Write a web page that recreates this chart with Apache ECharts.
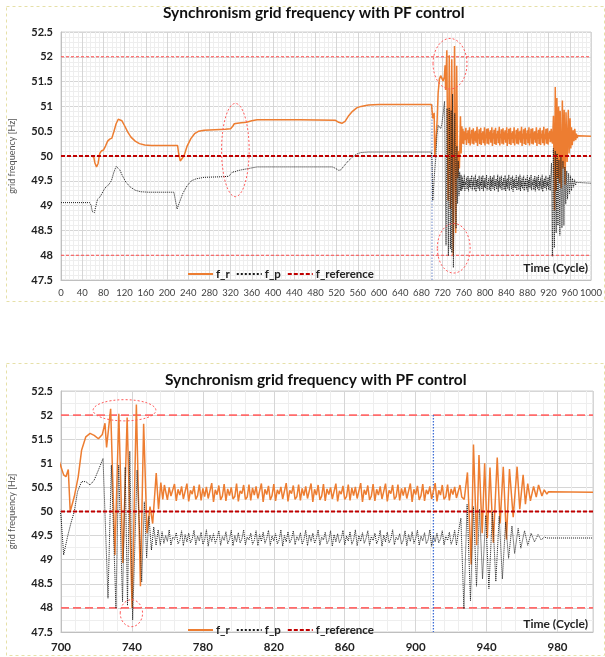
<!DOCTYPE html>
<html>
<head>
<meta charset="utf-8">
<script src="https://cdn.jsdelivr.net/npm/echarts@6/dist/echarts.min.js"></script>
<style>html,body{margin:0;padding:0;background:#fff}#c{width:605px;height:657px}</style>
</head>
<body>
<div id="c"></div>
<script>
// ---------- data (cycle, Hz) ----------
const titleText = 'Synchronism grid frequency with PF control';
const seriesNames = ['f_r', 'f_p', 'f_reference'];
const yTicks = { min: 47.5, max: 52.5, step: 0.5 };
const topX = { min: 0, max: 1000, step: 40 };
const bottomX = { min: 700, max: 1000, step: 40 };
const refValue = 50;
const limitValues = [52, 48];
const markerTop = [700, 51.04];
const markerBottom = [910, 52];

// f_r : smooth part and first transient
const frHead = [
  [58,50.0],[62,49.97],[64,49.86],[67,49.78],[70,49.85],[73,50.05],[76,50.1],[80,50.12],[84,50.2],[88,50.3],
  [92,50.34],[96,50.36],[100,50.5],[104,50.65],[108,50.74],[111,50.76],[115,50.71],[120,50.61],[126,50.48],[132,50.38],
  [140,50.3],[148,50.25],[158,50.22],[170,50.21],[200,50.21],[220,50.21],[222,50.05],[225,49.9],[228,49.88],[232,50.0],
  [238,50.2],[245,50.35],[252,50.45],[260,50.5],[270,50.52],[290,50.53],[310,50.54],[320,50.55],[324,50.6],[327,50.65],
  [330,50.63],[333,50.66],[340,50.67],[350,50.68],[360,50.71],[370,50.73],[450,50.73],[518,50.72],[524,50.68],[530,50.66],
  [536,50.7],[542,50.8],[550,50.9],[558,50.97],[566,51.0],[580,51.03],[600,51.04],[699,51.04],
  [700,51.03],[701.5,50.76],[702.8,50.72],[704.1,50.87],[705.2,50.0],[707.5,50.31],[709.7,50.72],[711.6,51.27],[714,51.55],[716.4,51.62],
  [718.7,51.58],[721.1,51.51],[723.3,51.6],[724.8,51.83],[725.7,51.33],[728,52.13],[730.4,49.1],[732.6,52.03],[734.9,48.93],[737.3,51.95],
  [740.1,48.0],[742.5,52.22],[744.8,48.45],[746.6,51.82],[748.5,49.55],[750.2,50.1],[751.7,49.75],[753.7,50.8],[755,50.05],[756.3,50.6],
  [757.4,50.25],[758.3,50.55]
];
// f_r : steady oscillation, one value per cycle from 759
const frSteadyStart = 759;
const frSteady = [
  50.55,50.24,50.50,50.32,50.28,50.57,50.22,50.46,50.34,50.52,
  50.26,50.30,50.58,50.21,50.44,50.36,50.53,50.25,50.33,50.56,
  50.23,50.48,50.31,50.51,50.27,50.29,50.59,50.20,50.45,50.35,
  50.54,50.24,50.32,50.57,50.22,50.47,50.33,50.50,50.26,50.31,
  50.58,50.21,50.43,50.37,50.55,50.25,50.30,50.56,50.23,50.49,
  50.34,50.52,50.27,50.29,50.58,50.20,50.46,50.35,50.53,50.24,
  50.33,50.57,50.22,50.45,50.36,50.51,50.26,50.30,50.59,50.21,
  50.44,50.37,50.54,50.25,50.31,50.56,50.23,50.48,50.33,50.52,
  50.27,50.28,50.58,50.20,50.46,50.34,50.55,50.24,50.32,50.57,
  50.22,50.47,50.35,50.50,50.26,50.30,50.58,50.21,50.43,50.36,
  50.53,50.25,50.31,50.56,50.23,50.49,50.33,50.51,50.27,50.29,
  50.59,50.20,50.45,50.35,50.54,50.24,50.32,50.57,50.22,50.46,
  50.34,50.52,50.26,50.30,50.58,50.21,50.44,50.37,50.55,50.25,
  50.31,50.56,50.23,50.48,50.33,50.50,50.27,50.29,50.58,50.20,
  50.46,50.35,50.53,50.24,50.33,50.57,50.22,50.45,50.36,50.52,
  50.26,50.30,50.59,50.21,50.44,50.34,50.55,50.25,50.31,50.56,
  50.23,50.47,50.35,50.51,50.28,50.30,50.55,50.30
];
// f_r : second transient and end
const frTail = [
  [927.4,50.25],[929.2,50.81],[931.3,48.9],[932.6,51.39],[934.4,49.3],[935.7,51.17],[937.5,49.55],[938.9,51.0],[940.4,49.45],[941.9,50.91],
  [943.8,49.35],[946,51.12],[947.6,49.75],[949.4,50.93],[951.2,49.42],[952.9,50.88],[955,49.88],[957.2,50.93],[958.7,50.05],[960.6,50.76],
  [961.9,50.15],[963.2,50.58],[964.7,50.22],[966.5,50.52],[968,50.3],[969.3,50.55],[971.2,50.32],[972.5,50.45],[974,50.36],[974.9,50.41],
  [976,50.4],[1000,50.4]
];

// f_p : smooth part and first transient
const fpHead = [
  [0,49.06],[54,49.06],[57,49.0],[59,48.88],[63,48.86],[66,49.0],[69,49.13],[74,49.18],[80,49.3],[85,49.38],
  [90,49.42],[95,49.5],[100,49.68],[104,49.79],[107,49.8],[111,49.72],[116,49.6],[122,49.48],[130,49.38],[140,49.31],
  [150,49.28],[165,49.27],[213,49.27],[216,49.1],[219,48.93],[223,49.05],[230,49.25],[238,49.4],[246,49.5],[255,49.54],
  [270,49.57],[300,49.58],[316,49.59],[320,49.63],[324,49.68],[328,49.68],[332,49.7],[340,49.72],[350,49.74],[360,49.76],
  [370,49.78],[450,49.78],[512,49.78],[518,49.75],[524,49.71],[528,49.72],[534,49.8],[542,49.9],[550,49.98],[558,50.04],
  [566,50.07],[580,50.08],[699,50.08],
  [700,49.9],[701.5,49.1],[703.7,49.48],[705.6,49.76],[707.5,50.0],[709.3,50.41],[711.6,50.62],[714,50.62],[716.4,50.55],[718.7,50.65],
  [721.1,50.86],[723.7,51.1],[726.5,48.2],[728.4,50.96],[731,47.99],[732.5,50.96],[734.7,48.13],[736.2,50.92],[737.5,48.05],[738.8,51.25],
  [740.4,47.75],[742.9,50.86],[745.5,48.54],[747,50.2],[748.3,49.04],[749.6,49.9],[751,49.2],[752.3,49.68],[753.6,49.3],[754.8,49.62],
  [756,49.3]
];
// f_p : steady oscillation, one value per cycle from 757
const fpSteadyStart = 757;
const fpSteady = [
  49.58,49.34,49.50,49.38,49.62,49.30,49.47,49.42,49.56,49.33,
  49.40,49.60,49.29,49.52,49.37,49.55,49.35,49.43,49.61,49.31,
  49.49,49.39,49.57,49.32,49.41,49.62,49.28,49.51,49.38,49.54,
  49.34,49.44,49.60,49.30,49.48,49.40,49.58,49.33,49.42,49.61,
  49.29,49.50,49.37,49.56,49.35,49.43,49.62,49.31,49.47,49.41,
  49.55,49.32,49.40,49.60,49.29,49.52,49.38,49.57,49.34,49.44,
  49.61,49.30,49.49,49.39,49.54,49.33,49.41,49.62,49.28,49.50,
  49.37,49.58,49.35,49.43,49.60,49.31,49.48,49.40,49.56,49.32,
  49.42,49.61,49.29,49.51,49.38,49.55,49.34,49.44,49.62,49.30,
  49.47,49.41,49.57,49.33,49.40,49.60,49.28,49.52,49.37,49.54,
  49.35,49.43,49.61,49.31,49.49,49.39,49.58,49.32,49.41,49.62,
  49.29,49.50,49.38,49.56,49.34,49.44,49.60,49.30,49.48,49.40,
  49.55,49.33,49.42,49.61,49.28,49.51,49.37,49.57,49.35,49.43,
  49.62,49.31,49.47,49.41,49.54,49.32,49.40,49.60,49.29,49.52,
  49.38,49.58,49.34,49.44,49.61,49.30,49.49,49.39,49.56,49.33,
  49.41,49.62,49.28,49.50,49.37,49.55,49.35,49.43,49.60,49.31,
  49.48,49.40,49.57,49.32,49.42,49.61,49.30,49.55
];
// f_p : second transient and end
const fpTail = [
  [925.5,49.86],[927.2,47.98],[929,50.15],[930.9,48.15],[932.6,50.1],[934.3,48.45],[936,50.05],[937.7,48.6],[939.5,49.92],[941.3,48.4],
  [943.3,50.0],[945.2,48.55],[947.1,49.9],[948.9,48.6],[950.7,49.78],[952.4,49.03],[954.3,49.7],[955.8,49.13],[957.8,49.65],[959.3,49.24],
  [961.4,49.6],[963.2,49.3],[965.1,49.55],[967,49.37],[969,49.52],[970.8,49.41],[972.5,49.47],[974,49.45],[1000,49.45]
];

// annotation ellipses: [grid, centre cycle, centre Hz, half-width cycles, half-height Hz]
const annotations = [
  [0, 329, 50.12, 26, 0.94],
  [0, 734, 51.86, 32, 0.51],
  [0, 741, 48.14, 31, 0.5],
  [1, 735.8, 52.1, 17.7, 0.22],
  [1, 739.7, 47.89, 6.3, 0.28]
];

// ---------- build ----------
const steady = (start, arr) => arr.map((v, i) => [start + i, v]);
const frData = frHead.concat(steady(frSteadyStart, frSteady), frTail);
const fpData = fpHead.concat(steady(fpSteadyStart, fpSteady), fpTail);

const FONT = 'Lato, "Open Sans", sans-serif';
const chart = echarts.init(document.getElementById('c'), null, { renderer: 'canvas' });

const grids = [
  { left: 57, right: 13, top: 32, height: 248 },
  { left: 57, right: 12, top: 391, height: 241 }
];

function xAxisOf(i, cfg, bold) {
  return {
    type: 'value', gridIndex: i, min: cfg.min, max: cfg.max, interval: cfg.step,
    axisLine: { show: true, lineStyle: { color: '#bfbfbf' } },
    axisTick: { show: false },
    axisLabel: {
      color: bold ? '#222' : '#404040', fontFamily: FONT,
      fontSize: bold ? 11.5 : 9.5, fontWeight: bold ? 'bold' : 'normal', margin: bold ? 9 : 8,
      formatter: v => (i === 1 && v === cfg.max) ? '' : String(v)
    },
    splitLine: { show: true, lineStyle: { color: '#d6d6d6', width: 1 } },
    minorTick: { show: false, splitNumber: 5 },
    minorSplitLine: { show: true, lineStyle: { color: '#eeeeee', width: 1 } }
  };
}
function yAxisOf(i, minorSplit) {
  return {
    type: 'value', gridIndex: i, min: yTicks.min, max: yTicks.max, interval: yTicks.step,
    name: 'grid frequency [Hz]', nameLocation: 'middle', nameGap: 44, nameRotate: 90,
    nameTextStyle: { color: '#555', fontSize: 9, fontFamily: FONT },
    axisLine: { show: true, lineStyle: { color: '#bfbfbf' } },
    axisTick: { show: false },
    axisLabel: { color: '#222', fontSize: 11, fontWeight: 'bold', fontFamily: FONT, margin: 8 },
    splitLine: { show: true, lineStyle: { color: '#d6d6d6', width: 1 } },
    minorTick: { show: false, splitNumber: minorSplit },
    minorSplitLine: { show: true, lineStyle: { color: '#eeeeee', width: 1 } }
  };
}

function plainLine(i, name, data, style, z) {
  return { name: name, type: 'line', xAxisIndex: i, yAxisIndex: i, data: data, symbol: 'none',
    silent: true, lineStyle: style, itemStyle: { color: style.color }, z: z };
}

function seriesFor(i, xr) {
  const limStyle = i === 0
    ? { color: '#ff4b4b', width: 1.1, type: [3, 2] }
    : { color: '#ff6b6b', width: 1.6, type: [8, 4] };
  const markStyle = { color: i === 0 ? '#8ea2d4' : '#3f6fd6', width: 1.3, type: [1.5, 1.5] };
  const marker = i === 0 ? markerTop : markerBottom;
  const out = [
    plainLine(i, seriesNames[0], frData, { color: '#ed7d31', width: 1.5 }, 3),
    plainLine(i, seriesNames[1], fpData, { color: '#1a1a1a', width: 1, type: 'dotted' }, 4),
    plainLine(i, seriesNames[2], [[xr.min, refValue], [xr.max, refValue]], { color: '#c00000', width: 2, type: [4, 2] }, 5)
  ];
  limitValues.forEach(v => out.push(plainLine(i, 'limit', [[xr.min, v], [xr.max, v]], limStyle, 2)));
  out.push(plainLine(i, 'marker', [[marker[0], marker[1]], [marker[0], yTicks.min]], markStyle, 2));
  return out;
}

function legendFor(top) {
  return {
    left: 182, top: top, itemWidth: 25, itemHeight: 10, itemGap: 6,
    data: seriesNames,
    itemStyle: { opacity: 0 },
    textStyle: { color: '#222', fontSize: 11.5, fontWeight: 'bold', fontFamily: FONT, padding: [0, 0, 0, -2] }
  };
}

const titleStyle = { color: '#111', fontSize: 15.5, fontWeight: 'bold', fontFamily: FONT };

chart.setOption({
  animation: false,
  backgroundColor: '#fff',
  title: [
    { text: titleText, left: 158, top: 0, textStyle: titleStyle },
    { text: titleText, left: 160, top: 367, textStyle: titleStyle }
  ],
  legend: [legendFor(263), legendFor(619)],
  grid: grids.map(g => Object.assign({ show: true, borderColor: '#d0d0d0', borderWidth: 1, backgroundColor: 'transparent' }, g)),
  xAxis: [xAxisOf(0, topX, false), xAxisOf(1, bottomX, true)],
  yAxis: [yAxisOf(0, 5), yAxisOf(1, 2)],
  series: seriesFor(0, topX).concat(seriesFor(1, bottomX))
});

// decorations: frames, axis caption, annotation ellipses (placed from data coords)
const graphics = [
  { type: 'rect', silent: true, shape: { x: 6.5, y: 6.5, width: 598, height: 295 },
    style: { fill: 'none', stroke: '#e6e0a8', lineWidth: 1, lineDash: [3, 3] } },
  { type: 'rect', silent: true, shape: { x: 6.5, y: 363.5, width: 598, height: 292 },
    style: { fill: 'none', stroke: '#e6e0a8', lineWidth: 1, lineDash: [3, 3] } }
];
[[0, 262], [1, 618]].forEach(([gi, ty]) => {
  graphics.push({ type: 'text', silent: true, right: 17, top: ty,
    style: { text: 'Time (Cycle)', font: 'bold 12px ' + FONT, fill: '#222' } });
});
annotations.forEach(([gi, cx, cy, hw, hh]) => {
  const c = chart.convertToPixel({ gridIndex: gi }, [cx, cy]);
  const e = chart.convertToPixel({ gridIndex: gi }, [cx + hw, cy + hh]);
  graphics.push({ type: 'ellipse', silent: true, z: 10,
    shape: { cx: c[0], cy: c[1], rx: Math.abs(e[0] - c[0]), ry: Math.abs(c[1] - e[1]) },
    style: { fill: 'none', stroke: '#ff5a5a', lineWidth: 1, lineDash: [2, 2] } });
});
chart.setOption({ graphic: graphics });
</script>
</body>
</html>
